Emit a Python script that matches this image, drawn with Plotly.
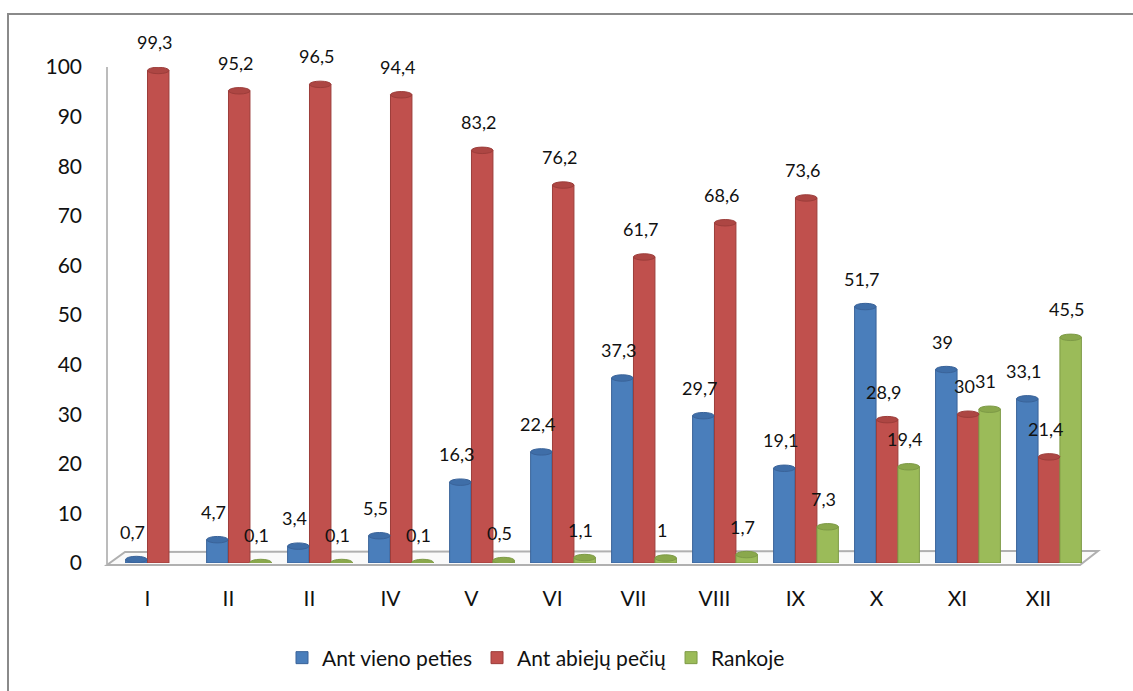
import plotly.graph_objects as go

# Grade labels (the third one is printed as "II" in the source table)
categories = ["I", "II", "II", "IV", "V", "VI", "VII", "VIII", "IX", "X", "XI", "XII"]

# Share of pupils (%) by way of carrying the school bag
one_shoulder = [0.7, 4.7, 3.4, 5.5, 16.3, 22.4, 37.3, 29.7, 19.1, 51.7, 39, 33.1]
both_shoulders = [99.3, 95.2, 96.5, 94.4, 83.2, 76.2, 61.7, 68.6, 73.6, 28.9, 30, 21.4]
in_hand = [None, 0.1, 0.1, 0.1, 0.5, 1.1, 1, 1.7, 7.3, 19.4, 31, 45.5]

series_names = ["Ant vieno peties", "Ant abiejų pečių", "Rankoje"]
y_ticks = list(range(0, 101, 10))

# ---- styling / geometry ----
W, H = 1133, 691
ML, MR, MT, MB = 107, 50, 67, 128
PLOT_W = W - ML - MR
PLOT_H = H - MT - MB
X_RANGE = [-0.5, 11.55]
Y_RANGE = [0, 100]
BAR_W = 0.265
CAP_H = 1.3  # height of the elliptical cylinder top, in axis units
OFFSETS = [-0.27, 0.0, 0.265]
COLORS = ["#4a7ebb", "#c0504d", "#9bbb59"]
LINES = ["#3a6399", "#9c3d3a", "#7d9a46"]
CAPS = ["#3f6ea8", "#ad4643", "#8aa84c"]
FONT = "Lato, 'Open Sans', sans-serif"
TEXT_COLOR = "#111111"


def px_x(p):
    return (p - ML) / PLOT_W


def px_y(p):
    return (H - MB - p) / PLOT_H


x_pos = list(range(len(categories)))
fig = go.Figure()

annotations = []
shapes = [
    # outer chart border (left and top edges visible)
    dict(
        type="rect", xref="paper", yref="paper",
        x0=px_x(8), x1=px_x(1145), y0=px_y(14), y1=px_y(705),
        line=dict(color="#8a8a8a", width=2), fillcolor="rgba(0,0,0,0)", layer="below",
    ),
    # back wall edge
    dict(
        type="line", xref="paper", yref="paper",
        x0=px_x(107), x1=px_x(107), y0=px_y(67), y1=px_y(564),
        line=dict(color="#bcbcbc", width=2), layer="below",
    ),
    # floor of the chart
    dict(
        type="path", xref="paper", yref="paper",
        path=(
            f"M {px_x(107)},{px_y(565)} L {px_x(1080)},{px_y(565)} "
            f"L {px_x(1098)},{px_y(551)} L {px_x(125)},{px_y(552)} Z"
        ),
        line=dict(color="#b0b0b0", width=2), fillcolor="#fafafa", layer="below",
    ),
]

for values, name, off, col, lc, cc in zip(
    [one_shoulder, both_shoulders, in_hand], series_names, OFFSETS, COLORS, LINES, CAPS
):
    fig.add_trace(
        go.Bar(
            x=x_pos,
            y=values,
            name=name,
            width=BAR_W,
            offset=off,
            marker=dict(color=col, line=dict(color=lc, width=1)),
            hoverinfo="y",
        )
    )
    for xi, v in zip(x_pos, values):
        if v is None:
            continue
        # elliptical top of each cylinder
        shapes.append(
            dict(
                type="circle", xref="x", yref="y",
                x0=xi + off, x1=xi + off + BAR_W,
                y0=v - CAP_H / 2, y1=v + CAP_H / 2,
                fillcolor=cc, line=dict(color=lc, width=1), layer="above",
            )
        )
        annotations.append(
            dict(
                x=xi + off + BAR_W / 2,
                y=v,
                xref="x",
                yref="y",
                text=f"{v:g}".replace(".", ","),
                showarrow=False,
                xshift=-4,
                yshift=28,
                font=dict(family=FONT, size=18, color=TEXT_COLOR),
            )
        )

fig.update_layout(
    width=W,
    height=H,
    margin=dict(l=ML, r=MR, t=MT, b=MB),
    paper_bgcolor="white",
    plot_bgcolor="rgba(0,0,0,0)",
    barmode="overlay",
    showlegend=True,
    legend=dict(
        orientation="h",
        x=px_x(282), xanchor="left",
        y=px_y(658), yanchor="middle",
        font=dict(family=FONT, size=21, color=TEXT_COLOR),
        itemwidth=30,
        traceorder="normal",
    ),
    xaxis=dict(
        range=X_RANGE,
        tickmode="array",
        tickvals=x_pos,
        ticktext=categories,
        showgrid=False,
        zeroline=False,
        showline=False,
        ticks="",
        ticklabelstandoff=21,
        tickfont=dict(family=FONT, size=21, color=TEXT_COLOR),
    ),
    yaxis=dict(
        range=Y_RANGE,
        tickmode="array",
        tickvals=y_ticks,
        showgrid=False,
        zeroline=False,
        showline=False,
        ticks="",
        ticklabelstandoff=24,
        tickfont=dict(family=FONT, size=21, color=TEXT_COLOR),
    ),
    annotations=annotations,
    shapes=shapes,
)

fig.write_html("out.html")
